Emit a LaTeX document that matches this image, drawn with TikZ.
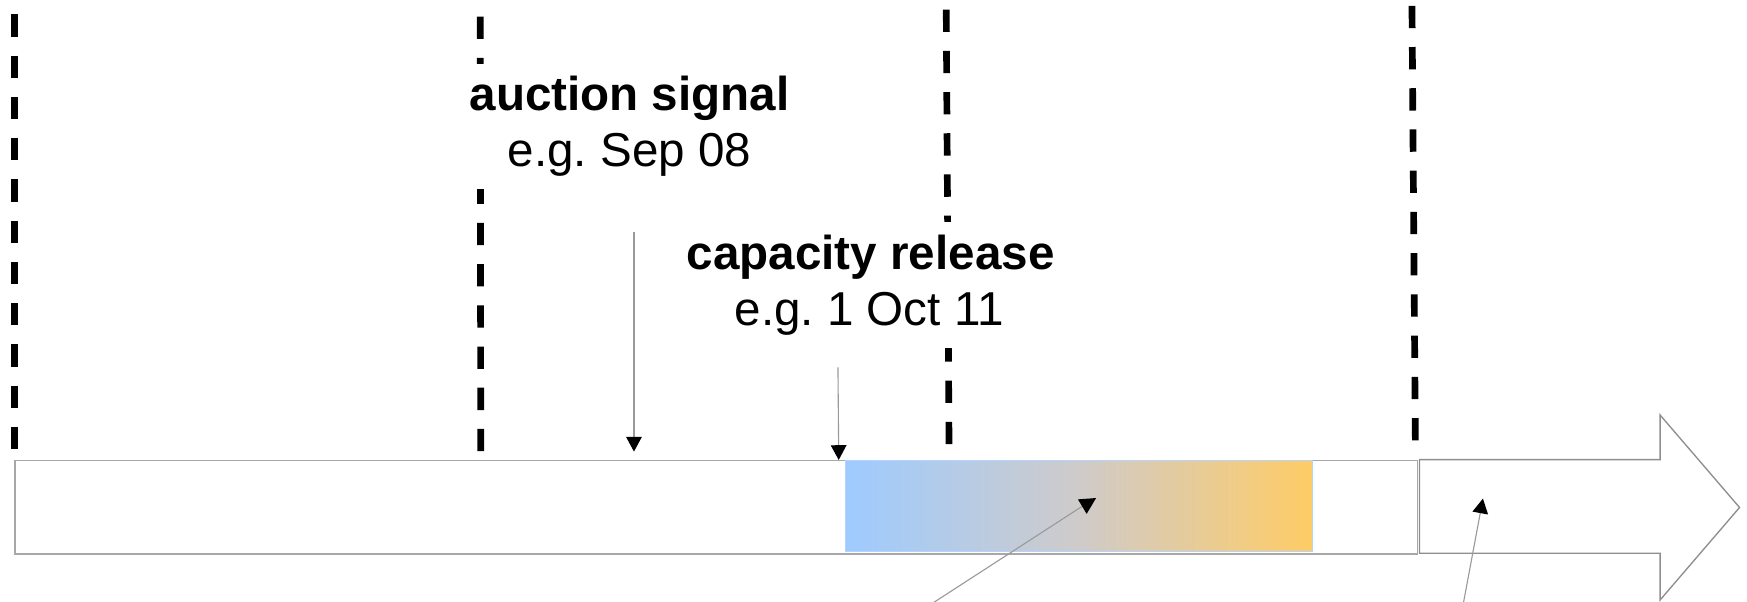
\documentclass[tikz,border=0pt]{standalone}
\usepackage{fontspec}
\setmainfont{Liberation Sans}
\usetikzlibrary{arrows.meta,fit,backgrounds}
\definecolor{barline}{HTML}{A8A8A8}
\definecolor{arrline}{HTML}{8E8E8E}
\definecolor{connline}{HTML}{9A9A9A}
\definecolor{gblue}{HTML}{9ECBFF}
\definecolor{gmid}{HTML}{CFCBCA}
\definecolor{gorange}{HTML}{FFCC66}
\tikzset{
  guide/.style={line width=3pt, dash pattern=on 10pt off 8.5pt, black},
  conn/.style={draw=connline, line width=0.5pt,
    -{Triangle[length=6.6pt,width=7pt,color=black,fill=black]}},
  lbl/.style={font=\fontsize{21.35}{25}\selectfont, inner sep=0pt},
  mask/.style={fill=white, inner xsep=4pt, inner ysep=5.5pt},
}
\frenchspacing
\begin{document}
\begin{tikzpicture}[x=0.5pt,y=-0.5pt]
\useasboundingbox (0,0) rectangle (1568,540);
% labels
\node[lbl,anchor=base] (auc1) at (565,99.6) {\bfseries auction signal};
\node[lbl,anchor=base] (auc2) at (565,149.4) {e.g.\ Sep 08};
\node[lbl,anchor=base] (cap1) at (781.5,242) {\bfseries capacity release};
\node[lbl,anchor=base] (cap2) at (780,292) {e.g.\ 1 Oct 11};
\begin{scope}[on background layer]
  \fill[white] (0,0) rectangle (1568,540);
  \draw[guide] (13,13) -- (13,413);
  \draw[guide] (431,15) -- (431.5,413);
  \draw[guide] (849.3,8.6) -- (851.8,404.6);
  \draw[guide] (1267.3,5.2) -- (1270.4,404);
  \node[mask,fit=(auc1)(auc2)] (maskA) {};
  \node[mask,fit=(cap1)(cap2)] (maskC) {};
\end{scope}
% timeline bar
\node[draw=barline, line width=0.6pt, fill=white, inner sep=0pt, anchor=north west,
      minimum width=1258.4*0.5pt, minimum height=84*0.5pt] (bar) at (13,412.5) {};
% gradient block
\node[draw=gblue!80, line width=0.5pt, left color=gblue, right color=gorange, middle color=gmid,
      inner sep=0pt, anchor=north west,
      minimum width=419*0.5pt, minimum height=81.5*0.5pt] (grad) at (758.4,412.8) {};
% big arrow
\draw[draw=arrline, line width=0.6pt, fill=white]
  (1274,412.5) -- (1490,412.5) -- (1490,372.5) -- (1561.3,455.5)
  -- (1490,538.5) -- (1490,496.5) -- (1274,496.5) -- cycle;
\coordinate (arrowpt) at (1331,447.5);
% connectors
\coordinate (sA) at (569,207.8);
\coordinate (tA) at (569,405.3);
\coordinate (sC) at (752.1,329.7);
\coordinate (tC) at (752.8,412.8);
\coordinate (sG) at (837.6,541);
\coordinate (tG) at (972,454);
\coordinate (sR) at (1313.5,541);
\draw[conn] (sA) -- (tA);
\draw[conn] (sC) -- (tC);
\draw[draw=connline, line width=0.5pt] (sG) -- (tG);
\fill[black] (967.5,448.2) -- (983.8,447) -- (975.3,461.2) -- cycle;
\draw[conn] (sR) -- (arrowpt);
\end{tikzpicture}
\end{document}
